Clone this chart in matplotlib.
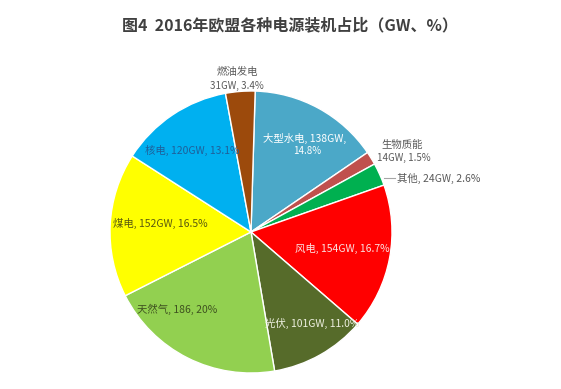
import matplotlib
matplotlib.use('Agg')
import matplotlib.pyplot as plt

plt.rcParams['font.family'] = ['Noto Sans CJK SC', 'DejaVu Sans']

# datos (orden horario desde arriba)
fuentes = ['大型水电', '生物质能', '其他', '风电', '光伏', '天然气', '煤电', '核电', '燃油发电']
gw = [138, 14, 24, 154, 101, 186, 152, 120, 31]
pct = ['14.8%', '1.5%', '2.6%', '16.7%', '11.0%', '20%', '16.5%', '13.1%', '3.4%']
colores = ['#4BA8C8', '#C0504D', '#00B050', '#FF0000', '#566B2A', '#92D050', '#FFFF00', '#00B0F0', '#9C4A0C']

W, H = 561, 389
fig = plt.figure(figsize=(W / 100, H / 100), dpi=100)
ax = fig.add_axes([0, 0, 1, 1])

# centro y radio en pixeles (y invertida)
cx, cy, r = 251, H - 232, 141
ax.pie(gw, colors=colores, startangle=88.3, counterclock=False,
       center=(cx, cy), radius=r,
       wedgeprops=dict(edgecolor='white', linewidth=1.0))
ax.set_xlim(0, W)
ax.set_ylim(0, H)
ax.set_aspect('equal', adjustable='box')
ax.axis('off')

fs = 7.5
gris = '#595959'

def y(v):
    return H - v

# etiquetas
ax.text(237, y(72), fuentes[8], ha='center', va='center', fontsize=fs, color=gris)
ax.text(237, y(86), f'{gw[8]}GW, {pct[8]}', ha='center', va='center', fontsize=fs - 0.5, color=gris)

ax.text(263, y(138), f'{fuentes[0]}, {gw[0]}GW,', ha='left', va='center', fontsize=fs, color='white')
ax.text(307, y(151), pct[0], ha='center', va='center', fontsize=fs - 0.5, color='white')

ax.text(402, y(145), fuentes[1], ha='center', va='center', fontsize=fs, color=gris)
ax.text(404, y(158), f'{gw[1]}GW, {pct[1]}', ha='center', va='center', fontsize=fs - 0.5, color=gris)

ax.plot([384, 395], [y(178), y(178)], color='#a6a6a6', linewidth=0.8)
ax.text(397, y(178), f'{fuentes[2]}, {gw[2]}GW, {pct[2]}', ha='left', va='center', fontsize=fs, color=gris)

ax.text(295, y(248), f'{fuentes[3]}, {gw[3]}GW, {pct[3]}', ha='left', va='center', fontsize=fs, color='#fbe0e0')

ax.text(265, y(323), f'{fuentes[4]}, {gw[4]}GW, {pct[4]}', ha='left', va='center', fontsize=fs, color='#eef0e0')

ax.text(137, y(309), f'{fuentes[5]}, {gw[5]}, {pct[5]}', ha='left', va='center', fontsize=fs, color='#3f5220')

ax.text(113, y(223), f'{fuentes[6]}, {gw[6]}GW, {pct[6]}', ha='left', va='center', fontsize=fs, color='#5a5a10')

ax.text(145, y(150), f'{fuentes[7]}, {gw[7]}GW, {pct[7]}', ha='left', va='center', fontsize=fs, color='#1f5f99')

# titulo
ax.text(290, y(25), '图4  2016年欧盟各种电源装机占比（GW、%）', ha='center', va='center',
        fontsize=11.5, fontweight='bold', color='#404040')

fig.savefig('out.png', dpi=100)
